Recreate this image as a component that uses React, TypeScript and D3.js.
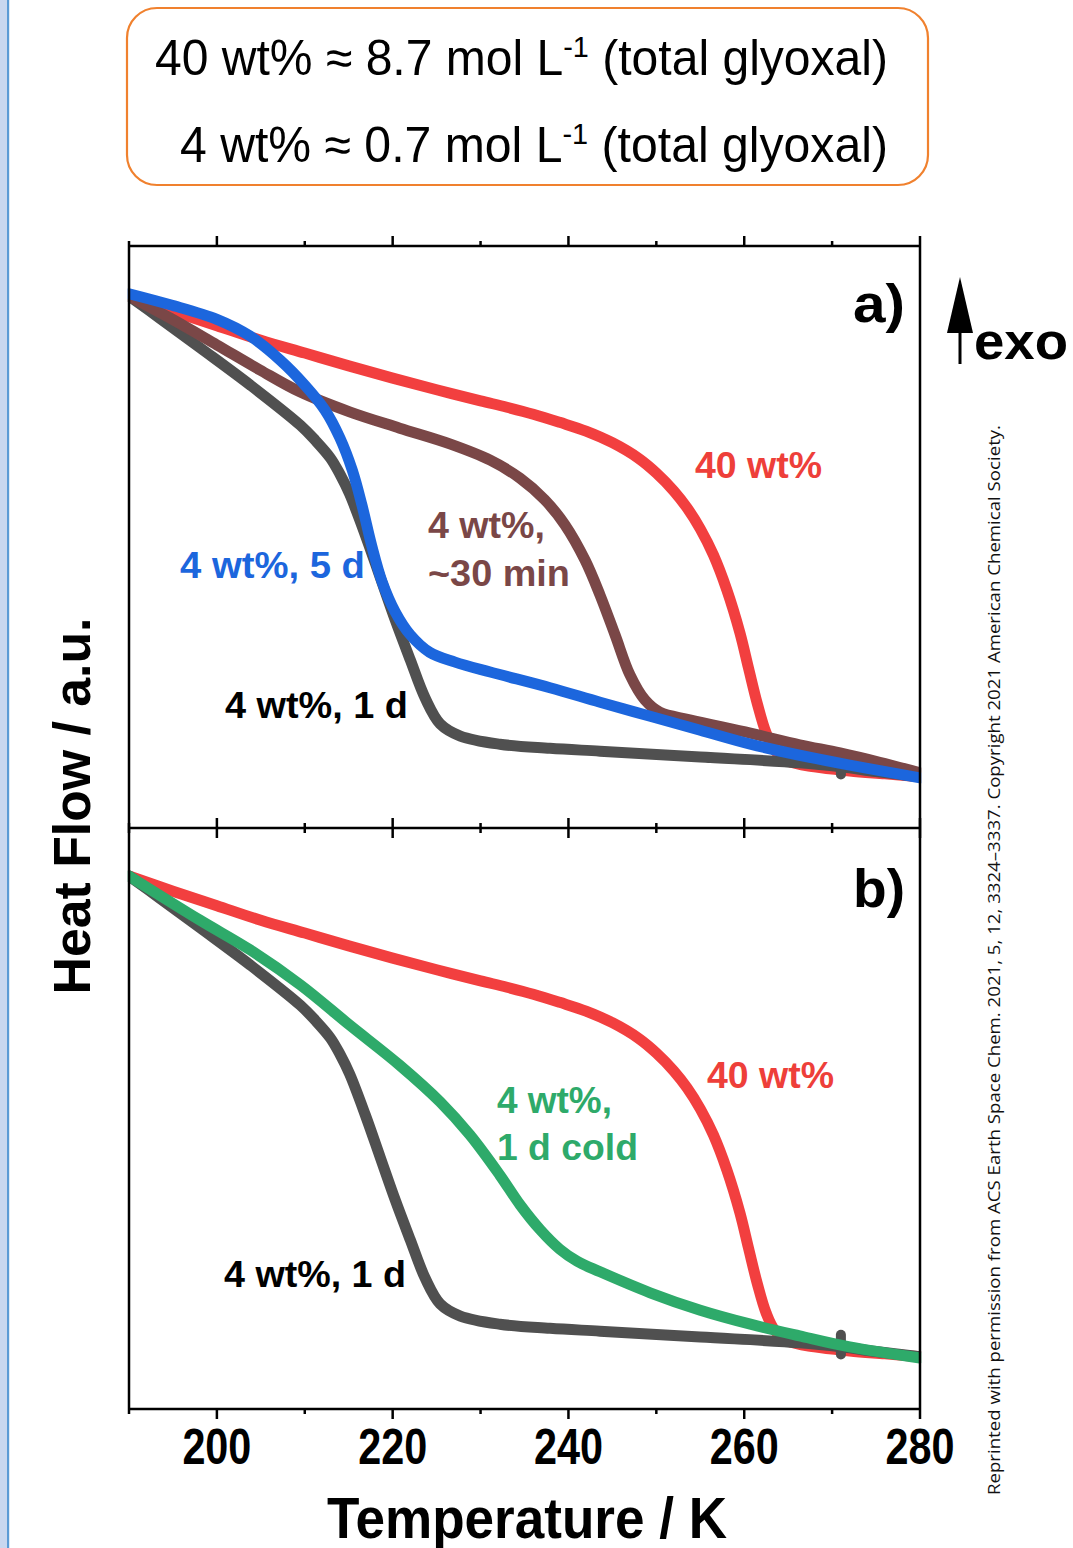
import React from "react";
import * as d3 from "d3";

// ---- data (temperature in K, heat flow in a.u., 0..100 per panel) ----
const red40T = [190,195,200,205,210,215,220,225,230,233,236,239,242,245,248,250,252,253.5,255,256.5,258,259.5,260.5,261.5,262.5,263.5,265,268,272,276,280];
const red40V = [91.4,88.8,86.3,83.8,81.6,79.4,77.3,75.3,73.4,72.3,71.1,69.7,68.2,66.2,63.5,61.0,57.9,55.0,51.4,46.9,41.0,33.6,27.4,21.3,16.3,13.3,11.5,10.5,9.8,9.3,8.8];

const gray1dT = [190,193.5,198.1,203.8,209.5,211.2,212.9,214.0,215.1,216.9,218.6,220.3,222.0,223.7,225.4,227.7,232.2,237.9,243.6,255.0,266.3,271,275,280];
const gray1dV = [91.4,87.6,82.5,76.1,69.2,66.6,63.6,60.8,57.4,50.3,43.0,35.7,28.9,22.3,17.9,15.8,14.4,13.7,13.2,12.2,11.2,10.5,9.7,8.8];
// short vertical glitch on the 1 d trace near 271 K
const glitchT = [271, 271];
const glitchV = [12.6, 9.2];

const blue5dT = [190,194.7,200,203.8,207.2,210.0,212.3,214.0,215.4,216.5,217.6,218.8,220.3,222.0,224.2,227.1,231.1,237.9,243.6,249.3,255.0,260.7,266.3,272.0,280];
const blue5dV = [91.8,89.9,87.4,84.5,80.4,76.1,71.8,67.0,61.5,55.5,48.6,42.3,37.1,33.2,30.2,28.5,26.8,24.1,21.6,19.2,16.8,14.4,12.5,10.8,8.6];

const brown30T = [190,194.7,200,204.9,209.5,215.1,220.8,226.5,231.1,234.5,237.3,239.6,241.9,243.6,245.3,247.0,248.7,250.4,253.8,260.7,266.3,270.9,275.4,280];
const brown30V = [91.4,87.6,83.0,78.7,74.9,71.5,68.7,66.0,63.2,60.1,56.4,52.1,46.0,40.0,33.2,26.3,22.0,19.9,18.6,16.3,14.3,12.9,11.3,9.5];

const greenColdT = [190,198.1,203.8,209.5,215.1,220.8,225.4,228.8,232.2,234.5,236.8,239.0,241.0,243.6,249.3,255.0,260.7,266.3,272.0,280];
const greenColdV = [91.4,83.8,78.7,72.7,65.8,58.9,52.6,46.9,40.0,34.9,30.6,27.3,25.2,23.4,19.8,16.8,14.4,12.4,10.5,8.6];

const majorTicks = [200, 220, 240, 260, 280];
const minorTicks = [190, 210, 230, 250, 270];

const RED = "#F23F3F";
const BLUE = "#1C66DD";
const BROWN = "#7A4747";
const GRAY = "#505050";
const GREEN = "#2EAA6A";

const zip = (t: number[], v: number[]) => t.map((tt, i) => [tt, v[i]] as [number, number]);

const X0 = 129, X1 = 920;
const A_TOP = 246, MID = 828, B_BOT = 1409;

export default function App() {
  const x = d3.scaleLinear().domain([190, 280]).range([X0, X1]);
  const yA = d3.scaleLinear().domain([0, 100]).range([828, 246]);
  const yB = d3.scaleLinear().domain([0, 100]).range([1408, 826]);

  const mk = (y: d3.ScaleLinear<number, number>) =>
    d3.line<[number, number]>().x(d => x(d[0])).y(d => y(d[1])).curve(d3.curveCatmullRom.alpha(0.5));
  const lineA = mk(yA);
  const lineB = mk(yB);

  const boldFont = "'Liberation Sans', Arial, sans-serif";
  const narrowFont = "'Liberation Sans Narrow', 'Arial Narrow', 'Liberation Sans', Arial, sans-serif";
  const sw = 11;

  const ticks = (y: number, dir: "up" | "down" | "both") => {
    const out: React.ReactNode[] = [];
    const seg = (t: number, len: number, key: string) => {
      const y1 = dir === "down" ? y : y - len;
      const y2 = dir === "up" ? y : y + len;
      out.push(<line key={key} x1={x(t)} x2={x(t)} y1={y1} y2={y2} stroke="#000" strokeWidth={2.5} />);
    };
    majorTicks.forEach(t => seg(t, 10, `M${y}-${t}`));
    minorTicks.forEach(t => seg(t, 5, `m${y}-${t}`));
    return out;
  };

  const label = (txt: string, xx: number, yy: number, len: number, color: string, size = 36) => (
    <text x={xx} y={yy} fill={color} fontFamily={boldFont} fontWeight="bold" fontSize={size}
      textLength={len} lengthAdjust="spacingAndGlyphs">{txt}</text>
  );

  const glitch = (y: d3.ScaleLinear<number, number>) => (
    <line x1={x(glitchT[0])} x2={x(glitchT[1])} y1={y(glitchV[0])} y2={y(glitchV[1])}
      stroke={GRAY} strokeWidth={10} strokeLinecap="round" />
  );

  return (
    <svg width={1073} height={1548} style={{ position: "absolute", left: 0, top: 0, display: "block", background: "#fff" }}>
      <rect x={0} y={0} width={1073} height={1548} fill="#fff" />
      {/* left side bar */}
      <rect x={0} y={0} width={7.5} height={1548} fill="#C8D7EF" />
      <rect x={7} y={0} width={2.2} height={1548} fill="#5B9BD5" />

      {/* info box */}
      <rect x={127} y={8} width={801} height={177} rx={30} ry={30} fill="#fff" stroke="#F0812E" strokeWidth={2.2} />
      <text x={155} y={75} fontFamily={narrowFont} fontSize={50} fill="#000" textLength={733} lengthAdjust="spacingAndGlyphs">
        40 wt% ≈ 8.7 mol L<tspan dy={-18} fontSize={30}>-1</tspan><tspan dy={18}> (total glyoxal)</tspan>
      </text>
      <text x={180} y={162} fontFamily={narrowFont} fontSize={50} fill="#000" textLength={708} lengthAdjust="spacingAndGlyphs">
        4 wt% ≈ 0.7 mol L<tspan dy={-18} fontSize={30}>-1</tspan><tspan dy={18}> (total glyoxal)</tspan>
      </text>

      {/* panel a curves */}
      <g fill="none" strokeWidth={sw} strokeLinecap="round" strokeLinejoin="round">
        <path d={lineA(zip(red40T, red40V)) || ""} stroke={RED} />
        <path d={lineA(zip(gray1dT, gray1dV)) || ""} stroke={GRAY} />
        {glitch(yA)}
        <path d={lineA(zip(brown30T, brown30V)) || ""} stroke={BROWN} />
        <path d={lineA(zip(blue5dT, blue5dV)) || ""} stroke={BLUE} />
      </g>
      {/* panel b curves */}
      <g fill="none" strokeWidth={sw} strokeLinecap="round" strokeLinejoin="round">
        <path d={lineB(zip(red40T, red40V)) || ""} stroke={RED} />
        <path d={lineB(zip(gray1dT, gray1dV)) || ""} stroke={GRAY} />
        {glitch(yB)}
        <path d={lineB(zip(greenColdT, greenColdV)) || ""} stroke={GREEN} />
      </g>

      {/* white mask outside plot */}
      <rect x={X1 + 1.25} y={230} width={40} height={1200} fill="#fff" />
      <rect x={X0 - 40} y={230} width={38.75} height={1200} fill="#fff" />

      {/* axes frame */}
      <g stroke="#000" strokeWidth={2.5} fill="none">
        <line x1={X0} x2={X1} y1={A_TOP} y2={A_TOP} />
        <line x1={X0} x2={X1} y1={MID} y2={MID} />
        <line x1={X0} x2={X1} y1={B_BOT} y2={B_BOT} />
        <line x1={X0} x2={X0} y1={A_TOP} y2={B_BOT} />
        <line x1={X1} x2={X1} y1={A_TOP} y2={B_BOT} />
      </g>
      {ticks(A_TOP, "up")}
      {ticks(MID, "both")}
      {ticks(B_BOT, "down")}

      {/* tick labels */}
      {majorTicks.map(t => (
        <text key={t} x={x(t)} y={1464} textAnchor="middle" fontFamily={narrowFont} fontWeight="bold" fontSize={50}
          textLength={69} lengthAdjust="spacingAndGlyphs">{t}</text>
      ))}
      <text x={527} y={1538} textAnchor="middle" fontFamily={narrowFont} fontWeight="bold" fontSize={58}
        textLength={400} lengthAdjust="spacingAndGlyphs">Temperature / K</text>
      <text transform="translate(90,806) rotate(-90)" textAnchor="middle" fontFamily={boldFont} fontWeight="bold" fontSize={52}
        textLength={377} lengthAdjust="spacingAndGlyphs">Heat Flow / a.u.</text>

      {/* panel letters */}
      <text x={853} y={322} fontFamily={narrowFont} fontWeight="bold" fontSize={54} textLength={52} lengthAdjust="spacingAndGlyphs">a)</text>
      <text x={853} y={907} fontFamily={narrowFont} fontWeight="bold" fontSize={54} textLength={52} lengthAdjust="spacingAndGlyphs">b)</text>

      {/* exo arrow */}
      <line x1={960} x2={960} y1={325} y2={364} stroke="#000" strokeWidth={3} />
      <path d="M960,277 L973,333 L947,333 Z" fill="#000" />
      <text x={974} y={359} fontFamily={boldFont} fontWeight="bold" fontSize={52} textLength={94} lengthAdjust="spacingAndGlyphs">exo</text>

      {/* curve labels panel a */}
      {label("40 wt%", 695, 478, 127, "#EE3F3A")}
      {label("4 wt%,", 428, 538, 117, BROWN)}
      {label("~30 min", 428, 586, 142, BROWN)}
      {label("4 wt%, 5 d", 180, 578, 185, BLUE)}
      {label("4 wt%, 1 d", 225, 718, 183, "#000")}
      {/* curve labels panel b */}
      {label("40 wt%", 707, 1088, 127, "#EE3F3A")}
      {label("4 wt%,", 497, 1113, 115, GREEN)}
      {label("1 d cold", 497, 1160, 141, GREEN)}
      {label("4 wt%, 1 d", 224, 1287, 182, "#000")}

      {/* copyright */}
      <text transform="translate(1000,1495) rotate(-90)" fontFamily="'Open Sans', 'Noto Sans', sans-serif" fontSize={17} fill="#111"
        textLength={1070} lengthAdjust="spacingAndGlyphs">
        Reprinted with permission from ACS Earth Space Chem. 2021, 5, 12, 3324–3337. Copyright 2021 American Chemical Society.
      </text>
    </svg>
  );
}
